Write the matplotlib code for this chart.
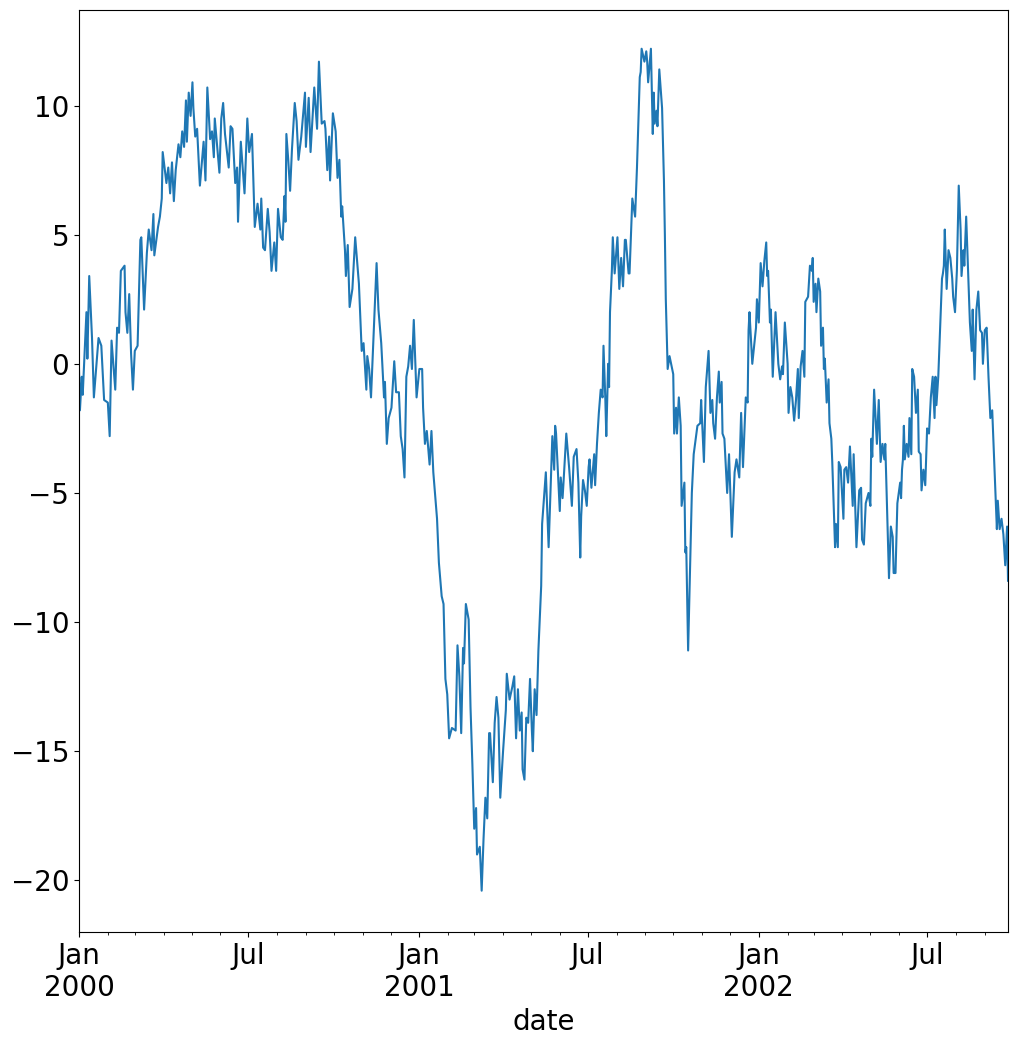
import pandas as pd
import matplotlib
matplotlib.use('Agg')
import matplotlib.pyplot as plt
import matplotlib.dates as mdates
from matplotlib.ticker import FuncFormatter

# Values: day offset from 2000-01-01 and level
day = [0, 1, 3, 4, 5, 8, 9, 11, 14, 16, 21, 24, 27, 31, 33, 35, 39, 41, 43, 45,
       49, 50, 52, 54, 56, 58, 60, 63, 66, 67, 70, 73, 75, 78, 80, 81, 85, 87, 89,
       90, 94, 96, 98, 100, 102, 104, 107, 109, 111, 113, 115, 116, 118, 120, 122, 123,
       125, 127, 130, 134, 136, 138, 141, 143, 145, 146, 151, 153, 155, 157, 161, 163,
       165, 168, 170, 171, 174, 176, 178, 181, 183, 186, 189, 192, 195, 196, 198, 200,
       203, 205, 207, 210, 212, 214, 217, 219, 221, 222, 223, 225, 227, 229, 232, 234,
       236, 239, 243, 244, 247, 249, 253, 256, 258, 261, 264,
       265, 267, 269, 270, 273, 276, 278, 280, 282, 283, 286, 287, 289, 291, 294, 297,
       301, 304, 306, 309, 310, 312, 314, 317, 320, 322, 325, 328, 329, 331, 333, 336,
       339, 341, 344, 346, 348, 350, 352, 354, 356, 358, 360, 363, 366, 369, 370, 372,
       374, 377, 379, 381,
       385, 387, 390, 392, 394, 396, 398, 401, 405, 407, 409, 411, 413, 414, 416, 419,
       421, 423, 425, 427, 428, 431, 433, 435, 437, 439, 441, 442, 445, 447, 449, 451,
       453, 456, 459, 460, 463, 466, 468, 470, 472, 474, 476, 477, 479, 481, 483, 485,
       487, 488, 490, 492, 494, 497,
       498, 502, 505, 509, 511, 512, 513, 517, 518, 520, 521, 524, 527, 530, 532, 535,
       537, 539, 540, 542, 544, 546, 548, 549, 551, 554, 555, 557, 559, 561, 563, 564,
       566, 567, 569, 570, 571, 573, 574, 576, 579, 581, 583, 585, 587, 588, 591, 592,
       595, 598,
       600, 602, 603, 604, 605, 608, 610, 611, 612, 615, 617, 618, 619, 621, 622, 624,
       627, 629, 630, 631,
       633, 635, 639, 640, 642, 643, 645, 647, 648, 651, 652, 653, 655, 659, 661, 665,
       668, 669, 672, 674, 677, 679, 681, 682, 684, 686, 688, 689, 691, 692, 694, 697,
       699, 702, 705, 707, 710, 712, 714, 717, 719, 720, 721, 724, 728, 729, 731,
       733, 735, 737, 739, 740, 741, 743, 744, 746, 749, 752, 754, 756, 757, 759, 762,
       763, 765, 767, 769, 771, 773, 774, 776, 778, 780, 781, 784, 786, 788, 789, 790,
       792, 793, 795, 797, 798, 800, 801, 802, 804, 806, 807, 809, 810, 813, 814, 816,
       817, 819, 822, 823, 825, 827, 829, 832, 833, 836, 839, 841, 842, 844, 846, 849,
       851, 852, 853, 855, 858, 860, 862, 864, 866, 867, 871, 873, 875, 876,
       878, 880, 883, 884, 885, 886, 887, 888, 890, 892, 893, 895, 896, 898, 900, 902,
       903, 905, 906, 908, 910, 912, 914, 916, 918, 920, 921, 922, 924, 926, 928, 929,
       930, 931, 933, 935, 937, 939, 940, 942, 944, 946, 948, 949, 951, 952, 954, 956,
       958, 960, 961, 963, 965, 967, 969, 971, 972, 974, 976, 978, 980, 982, 983, 985,
       987, 988, 990, 992, 994, 996, 998, 999]

value = [-0.2, -1.8, -0.5, -1.2, -0.4, 2.0, 0.2, 3.4, 1.0, -1.3, 1.0, 0.7, -1.4, -1.5, -2.8, 0.9, -1.0, 1.4, 1.2, 3.6,
         3.8, 2.0, 1.2, 2.7, 0.4, -1.0, 0.5, 0.7, 4.8, 4.9, 2.1, 4.3, 5.2, 4.4, 5.8, 4.2, 5.3, 5.7, 6.4,
         8.2, 7.0, 7.6, 6.6, 7.8, 6.3, 7.5, 8.5, 8.0, 9.0, 8.4, 10.2, 8.6, 10.5, 9.6, 10.9, 9.9,
         8.8, 9.1, 6.9, 8.6, 7.1, 10.7, 8.7, 9.0, 8.0, 9.5, 7.4, 9.5, 10.1, 8.9, 7.6, 9.2,
         9.1, 7.0, 7.6, 5.5, 8.6, 7.6, 6.6, 9.5, 8.2, 8.9, 5.3, 6.2, 5.2, 6.4, 4.5, 4.4,
         6.0, 5.1, 3.6, 4.7, 3.6, 6.0, 4.9, 4.8, 6.5, 5.5, 8.9, 7.9, 6.7, 8.3, 10.1, 9.4,
         7.9, 8.8, 10.5, 8.4, 10.3, 8.2, 10.7, 9.1, 11.7, 9.3, 9.4,
         9.1, 7.5, 8.8, 7.1, 9.7, 9.0, 7.2, 7.9, 5.7, 6.1, 4.4, 3.4, 4.6, 2.2, 2.9, 4.9,
         3.1, 0.5, 0.8, -1.0, 0.3, -0.2, -1.3, 1.3, 3.9, 2.1, 0.8, -1.3, -0.7, -3.1, -2.1, -1.7,
         0.1, -1.1, -1.1, -2.8, -3.3, -4.4, -0.5, -0.1, 0.7, -0.2, 1.7, -1.3, -0.2, -0.2, -1.7, -3.1,
         -2.6, -3.9, -2.6, -4.2,
         -6.0, -7.7, -9.0, -9.3, -12.2, -12.8, -14.5, -14.1, -14.2, -10.9, -12.1, -14.3, -11.0, -11.6, -9.3, -9.9,
         -13.3, -15.5, -18.0, -17.2, -19.0, -18.7, -20.4, -18.4, -16.8, -17.6, -14.3, -14.3, -16.2, -13.9, -12.9, -13.7,
         -16.8, -15.0, -13.4, -12.0, -13.0, -12.5, -12.1, -14.5, -12.6, -14.2, -13.5, -15.7, -16.1, -13.7, -13.9, -12.2,
         -14.2, -15.0, -12.6, -13.6, -11.1, -8.6,
         -6.2, -4.2, -7.1, -2.8, -4.1, -2.4, -2.7, -5.7, -4.4, -5.2, -4.6, -2.7, -4.0, -5.5, -3.6, -3.3,
         -4.6, -7.5, -5.9, -4.5, -4.9, -5.5, -4.0, -3.7, -4.8, -3.5, -4.7, -3.1, -1.9, -1.0, -1.3, 0.7,
         -1.4, -2.8, 0.0, -0.9, 2.0, 3.6, 4.9, 3.5, 4.9, 2.9, 4.1, 3.0, 4.8, 4.8, 3.5, 3.5,
         6.4, 5.7,
         7.6, 10.0, 11.1, 11.3, 12.2, 11.7, 12.1, 11.7, 10.9, 12.2, 8.9, 10.5, 9.3, 9.8, 9.2, 11.4,
         9.9, 7.1, 5.0, 2.5,
         -0.2, 0.3, -0.4, -2.7, -1.7, -2.7, -1.3, -2.4, -5.5, -4.6, -7.3, -7.1, -11.1, -5.0, -3.5, -2.4,
         -2.3, -1.4, -3.8, -0.9, 0.5, -1.9, -1.4, -2.3, -2.9, -1.3, -0.3, -1.5, -0.7, -2.7, -2.9, -5.0,
         -3.5, -6.7, -4.2, -3.7, -4.4, -1.9, -4.0, -1.3, -1.5, 1.3, 2.0, 0.0, 1.4, 2.5, 1.6,
         3.9, 3.0, 4.0, 4.7, 3.4, 3.6, 1.6, 2.1, -0.5, 2.0, 0.0, -0.6, -0.1, -0.4, 1.6, 0.0,
         -1.9, -0.9, -1.3, -2.2, -1.4, -0.2, -2.1, -0.1, 0.5, -0.5, 2.4, 2.6, 3.8, 3.6, 4.1, 2.4,
         3.1, 2.0, 3.3, 2.8, 0.7, 1.4, -0.2, 0.2, -1.5, -0.6, -2.3, -2.9, -3.8, -7.1, -6.2, -7.1,
         -3.8, -4.0, -6.0, -4.1, -4.0, -4.6, -3.2, -5.5, -3.5, -7.1, -4.9, -4.8, -6.8, -7.0, -5.4, -5.0,
         -5.5, -2.9, -3.6, -1.0, -3.1, -1.4, -3.8, -3.1, -3.7, -3.1, -8.3, -6.3, -6.7, -8.1,
         -8.1, -5.4, -4.6, -5.2, -4.1, -3.7, -2.4, -3.7, -3.1, -3.6, -2.1, -3.5, -0.2, -0.5, -1.9, -1.0,
         -3.4, -3.5, -4.9, -4.1, -4.7, -2.5, -2.7, -1.3, -0.5, -2.1, -0.5, -1.6, -0.5, 1.4, 3.3, 3.5,
         3.8, 5.2, 2.9, 4.4, 4.1, 3.3, 2.6, 2.0, 3.6, 6.9, 5.2, 3.4, 4.4, 3.8, 5.7, 3.6,
         1.6, 0.5, 2.1, -0.6, 2.1, 2.8, 1.3, 1.2, 0.0, 1.3, 1.4, -0.5, -2.1, -1.8, -2.7, -4.5,
         -6.4, -5.3, -6.4, -6.0, -6.6, -7.8, -6.3, -8.4]

start = pd.Timestamp('2000-01-01')
dates = start + pd.to_timedelta(day, unit='D')

plt.rcParams['font.size'] = 20
fig = plt.figure(figsize=(10.18, 10.53), dpi=100)
ax = fig.add_axes([0.0776, 0.1149, 0.9126, 0.8756])
ax.plot(dates, value, color='#1f77b4', linewidth=1.5)

ax.set_xlim(start, start + pd.Timedelta(days=999))
ax.set_ylim(-22.0, 13.7)

# pandas-like date ticks: Jan / Jul majors, monthly minors
ax.xaxis.set_major_locator(mdates.MonthLocator(bymonth=[1, 7]))
ax.xaxis.set_minor_locator(mdates.MonthLocator())


def fmt(x, pos):
    d = mdates.num2date(x)
    if d.month == 1:
        return 'Jan\n%d' % d.year
    return d.strftime('%b')


ax.xaxis.set_major_formatter(FuncFormatter(fmt))
ax.xaxis.set_minor_formatter(FuncFormatter(lambda x, pos: ''))
ax.set_xlabel('date')

fig.savefig('out.png', dpi=100)
